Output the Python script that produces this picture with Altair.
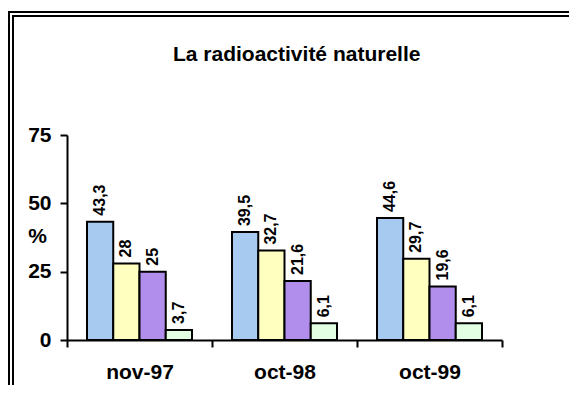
import altair as alt
import pandas as pd

categories = ["nov-97", "oct-98", "oct-99"]
series = ["s1", "s2", "s3", "s4"]
colors = ["#A6CAF0", "#FFFFC0", "#B18EEB", "#E3FFE3"]
values = {
    "nov-97": [43.3, 28, 25, 3.7],
    "oct-98": [39.5, 32.7, 21.6, 6.1],
    "oct-99": [44.6, 29.7, 19.6, 6.1],
}
y_ticks = [0, 25, 50, 75]
title_text = "La radioactivité naturelle"
y_title = "%"

rows = []
for c in categories:
    for s, v in zip(series, values[c]):
        rows.append({"cat": c, "serie": s, "val": v,
                     "label": f"{v:g}".replace(".", ",")})
df = pd.DataFrame(rows)

FONT = "Liberation Sans"
W, H = 435, 205

x_enc = alt.X("cat:N", sort=categories,
              scale=alt.Scale(paddingInner=0, paddingOuter=0),
              axis=alt.Axis(title=None, labelAngle=0, tickBand="extent",
                            labelPadding=14))
xoff = alt.XOffset("serie:N", sort=series,
                   scale=alt.Scale(paddingInner=0, paddingOuter=0.762))
y_enc = alt.Y("val:Q", scale=alt.Scale(domain=[0, 75], nice=False),
              axis=alt.Axis(title=None, values=y_ticks, labelPadding=9))

base = alt.Chart(df)
one = pd.DataFrame({"k": [0]})


def vline(x, y0):
    return alt.Chart(one).mark_rule(stroke="black", strokeWidth=2).encode(
        x=alt.value(x), y=alt.value(y0), y2=alt.value(250))


def hline(y, x0):
    return alt.Chart(one).mark_rule(stroke="black", strokeWidth=2).encode(
        x=alt.value(x0), x2=alt.value(502), y=alt.value(y))


frame = [vline(-58, -124), vline(-54, -120), hline(-123, -59), hline(-119, -55)]

bars = base.mark_bar(stroke="black", strokeWidth=2).encode(
    x=x_enc, xOffset=xoff, y=y_enc,
    color=alt.Color("serie:N", sort=series,
                    scale=alt.Scale(domain=series, range=colors), legend=None),
)

labels = base.mark_text(angle=270, align="left", baseline="middle",
                        font=FONT, fontWeight="bold", fontSize=16,
                        color="black", yOffset=-6).encode(
    x=x_enc, xOffset=xoff, y=y_enc, text="label:N")

title = alt.Chart(pd.DataFrame({"t": [title_text]})).mark_text(
    align="center", baseline="alphabetic", font=FONT, fontWeight="bold",
    fontSize=21, color="black").encode(
    x=alt.value(229.7), y=alt.value(-74), text="t:N")

ytitle = alt.Chart(pd.DataFrame({"t": [y_title]})).mark_text(
    align="center", baseline="middle", font=FONT, fontWeight="bold",
    fontSize=21, color="black").encode(
    x=alt.value(-29.5), y=alt.value(102), text="t:N")

chart = alt.layer(*frame, bars, labels, title, ytitle).properties(
    width=W, height=H,
    autosize=alt.AutoSizeParams(type="none"),
    padding={"left": 59, "top": 127, "right": 68, "bottom": 45},
).configure_view(stroke=None).configure_axis(
    domainColor="black", domainWidth=2, tickColor="black", tickWidth=2,
    tickSize=7, labelFont=FONT, labelFontWeight="bold", labelFontSize=21,
    labelColor="black", grid=False,
)

chart.save("out.html", embed_options={"renderer": "svg", "actions": False})
